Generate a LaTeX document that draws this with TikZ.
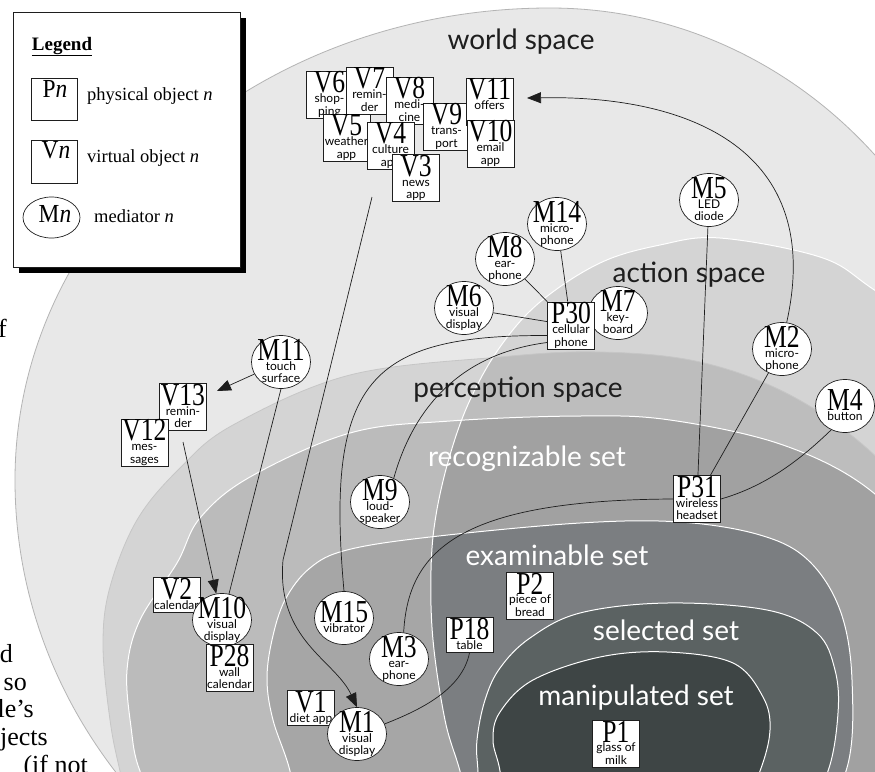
\documentclass[tikz,border=0pt]{standalone}
\usepackage{fontspec}
\usepackage{graphicx}
\usetikzlibrary{arrows.meta,shapes.geometric}
\newfontfamily\gill{Lato}
\newfontfamily\tnr{Liberation Serif}
\definecolor{worldc}{HTML}{E8E8E8}
\definecolor{worldb}{HTML}{B4B4B4}
\definecolor{percc}{HTML}{D4D4D4}
\definecolor{percb}{HTML}{C6C6C6}
\definecolor{actc}{HTML}{D4D4D4}
\definecolor{peractc}{HTML}{BDBDBD}
\definecolor{recogc}{HTML}{BBBBBB}
\definecolor{recogactc}{HTML}{A1A1A1}
\definecolor{examc}{HTML}{A6A6A6}
\definecolor{examactc}{HTML}{7B7E81}
\definecolor{selc}{HTML}{5B6262}
\definecolor{manc}{HTML}{3E4545}
\definecolor{ink}{HTML}{1E1E1E}
\newcommand\bigf{\tnr\fontsize{32}{32}\selectfont}
\newcommand\smf{\gill\fontsize{12}{13}\selectfont}
\newcommand\BL[1]{\scalebox{0.8}[1]{#1}}
\newsavebox\objbox
\newcommand\centred[1]{\sbox\objbox{#1}%
  \makebox[0pt]{\raisebox{\dimexpr(\dp\objbox-\ht\objbox)/2\relax}[0pt][0pt]{\usebox\objbox}}}
\newcommand\ot[3]{\centred{\vbox{\offinterlineskip\halign{\hfil##\hfil\cr
  \vrule height 22pt depth 0pt width 0pt\bigf\BL{#1}\cr
  \vrule height 9.5pt depth 3pt width 0pt\smf #2\cr
  \vrule height 9.5pt depth 3pt width 0pt\smf #3\cr}}}}
\newcommand\ott[2]{\centred{\vbox{\offinterlineskip\halign{\hfil##\hfil\cr
  \vrule height 22pt depth 0pt width 0pt\bigf\BL{#1}\cr
  \vrule height 9.5pt depth 3pt width 0pt\smf #2\cr}}}}
\def\Pworld{(550,8) arc[start angle=90,end angle=180,x radius=535pt,y radius=472pt] arc[start angle=180,end angle=270,x radius=535pt,y radius=500pt] arc[start angle=270,end angle=360,x radius=448pt,y radius=500pt] arc[start angle=0,end angle=90,x radius=448pt,y radius=472pt] -- cycle}
\def\Pperc{plot[smooth cycle, tension=0.6] coordinates {(135,830) (120,771) (110,720) (103,645) (110,587) (137,520) (180,468) (233,425) (350,375) (500,357) (600,352) (700,362) (790,395) (870,451) (940,530) (980,640) (980,780) (900,880) (500,920) (200,880)}}
\def\Pact{plot[smooth cycle, tension=0.6] coordinates {(475,830) (460,771) (445,720) (433,640) (431,570) (436,515) (450,455) (470,400) (500,347) (540,302) (600,263) (660,245) (720,238) (820,257) (870,287) (940,340) (1000,430) (1020,560) (1000,720) (940,830) (700,880)}}
\def\Precog{plot[smooth cycle, tension=0.6] coordinates {(170,830) (140,771) (131,727) (127,670) (140,620) (177,563) (200,518) (250,477) (350,433) (450,421) (580,416) (670,420) (783,445) (870,490) (930,560) (960,650) (960,760) (920,840) (550,900)}}
\def\Pexam{plot[smooth cycle, tension=0.6] coordinates {(300,830) (290,771) (273,720) (267,680) (272,640) (285,600) (310,568) (347,550) (430,537) (580,523) (680,522) (760,535) (808,560) (840,610) (852,680) (846,771) (800,840) (550,880)}}
\def\Psel{plot[smooth cycle, tension=0.6] coordinates {(482,820) (478,771) (477,740) (485,700) (500,668) (530,638) (580,613) (667,603) (767,610) (817,633) (835,670) (838,713) (828,771) (800,820) (650,850)}}
\def\Pman{plot[smooth cycle, tension=0.6] coordinates {(505,820) (500,771) (493,740) (500,712) (533,680) (600,657) (667,652) (733,663) (763,697) (770,730) (760,771) (740,810) (620,830)}}
\tikzset{
 obj/.style={rectangle, draw=ink, fill=white, line width=0.7pt, inner sep=0pt, minimum width=47pt, minimum height=47pt},
 objs/.style={obj, minimum height=35pt},
 med/.style={ellipse, draw=ink, fill=white, line width=0.7pt, inner sep=0pt, minimum width=59pt, minimum height=53pt},
 conn/.style={draw=ink, line width=0.7pt},
 arr/.style={conn, -{Triangle[length=14pt,width=11pt]}},
 dark/.style={font=\gill\fontsize{28}{30}\selectfont, text=ink, anchor=base, inner sep=0pt},
 light/.style={dark, text=white},
 frag/.style={font=\tnr\fontsize{26}{26}\selectfont, text=black, inner sep=0pt, anchor=base east},
 legtxt/.style={font=\tnr\fontsize{18.5}{18.5}\selectfont, text=black, inner sep=0pt, anchor=base west},
 legbig/.style={font=\tnr\fontsize{26}{26}\selectfont, text=black, inner sep=0pt, anchor=base},
}
\begin{document}
\begin{tikzpicture}[x=1pt,y=-1pt]
\useasboundingbox (0,0) rectangle (875,771);
\clip (0,0) rectangle (875,771);
\fill[white] (0,0) rectangle (875,771);
% text fragments of the cropped page
\node[frag] (fr1) at (7,337) {f};
\node[frag] (fr2) at (13,662) {d};
\node[frag] (fr3) at (27,690) {so};
\node[frag] (fr4) at (34,717) {le’s};
\node[frag] (fr5) at (48,745) {jects};
\node[frag] (fr6) at (88,773) {(if not};
% regions
\path[fill=worldc, draw=worldb, line width=0.8pt] \Pworld;
\fill[percc] \Pperc;
\fill[actc] \Pact;
\begin{scope}\clip \Pact; \fill[peractc] \Pperc;\end{scope}
\fill[recogc] \Precog;
\begin{scope}\clip \Pact; \fill[recogactc] \Precog;\end{scope}
\fill[examc] \Pexam;
\begin{scope}\clip \Pact; \fill[examactc] \Pexam;\end{scope}
\fill[selc] \Psel;
\fill[manc] \Pman;
\draw[percb, line width=0.8pt] \Pperc;
\draw[white, line width=1pt] \Pact;
\draw[white, line width=1pt] \Precog;
\draw[white, line width=1pt] \Pexam;
\draw[white, line width=1pt] \Psel;
\draw[white, line width=1pt] \Pman;
% region labels
\node[dark] (lworld) at (521,49) {world space};
\node[dark] (laction) at (689,282) {action space};
\node[dark] (lperc) at (518,397) {perception space};
\node[light] (lrecog) at (527,466) {recognizable set};
\node[light] (lexam) at (557,565) {examinable set};
\node[light] (lsel) at (666,640) {selected set};
\node[light] (lman) at (636,705) {manipulated set};
% virtual objects (top)
\node[obj] (v6) at (329.5,94.5) {\ot{V6}{shop-}{ping}};
\node[obj] (v7) at (369.5,90.5) {\ot{V7}{remin-}{der}};
\node[obj] (v5) at (346.5,137.5) {\ot{V5}{weather}{app}};
\node[obj] (v8) at (409.5,100.5) {\ot{V8}{medi-}{cine}};
\node[obj] (v4) at (390.5,145.5) {\ot{V4}{culture}{app}};
\node[obj] (v9) at (446.5,126.5) {\ot{V9}{trans-}{port}};
\node[obj] (v3) at (416,178) {\ot{V3}{news}{app}};
\node[obj] (v11) at (489.5,101.5) {\ot{V11}{offers}{}};
\node[obj] (v10) at (490.5,143.5) {\ot{V10}{email}{app}};
% cellular phone cluster
\node[med] (m14) at (557,224) {\ot{M14}{micro-}{phone}};
\node[med] (m8) at (505,259) {\ot{M8}{ear-}{phone}};
\node[med] (m6) at (464,308) {\ot{M6}{visual}{display}};
\node[med] (m7) at (618,313) {\ot{M7}{key-}{board}};
\node[obj] (p30) at (571,325.5) {\ot{P30}{cellular}{phone}};
% headset cluster
\node[med] (m5) at (709,200) {\ot{M5}{LED}{diode}};
\node[med] (m2) at (782,349) {\ot{M2}{micro-}{phone}};
\node[med] (m4) at (845,406) {\ott{M4}{button}};
\node[obj] (p31) at (697,499) {\ot{P31}{wireless}{headset}};
% left side
\node[med] (m11) at (281,362) {\ot{M11}{touch}{surface}};
\node[obj] (v13) at (183,407) {\ot{V13}{remin-}{der}};
\node[obj] (v12) at (144.5,442.5) {\ot{V12}{mes-}{sages}};
\node[objs] (v2) at (176.5,594.5) {\ott{V2}{calendar}};
\node[med] (m10) at (222,620) {\ot{M10}{visual}{display}};
\node[obj] (p28) at (229.5,668) {\ot{P28}{wall}{calendar}};
% lower middle
\node[med] (m9) at (380,502) {\ot{M9}{loud-}{speaker}};
\node[med] (m15) at (344,618) {\ott{M15}{vibrator}};
\node[med] (m3) at (399,659) {\ot{M3}{ear-}{phone}};
\node[objs] (v1) at (311,707.5) {\ott{V1}{diet app}};
\node[med] (m1) at (357,734) {\ot{M1}{visual}{display}};
\node[objs] (p18) at (469.5,635) {\ott{P18}{table}};
\node[obj] (p2) at (530,595.5) {\ot{P2}{piece of}{bread}};
\node[obj] (p1) at (616,743.5) {\ot{P1}{glass of}{milk}};
% free ends
\coordinate (s1) at (372,197);
\coordinate (s2) at (183,442);
\coordinate (a1) at (217,391);
\coordinate (a2) at (527,98);
% connectors
\draw[conn] (m14) -- (p30);
\draw[conn] (m8) -- (p30);
\draw[conn] (m6) -- (p30);
\draw[conn] (m5) -- (p31);
\draw[conn] (m2) -- (p31);
\draw[conn] (p31.east) .. controls (770,485) and (805,455) .. (m4.240);
\draw[conn] (m3.80) .. controls (408,550) and (460,500) .. (p31.west);
\draw[conn] (m15.north) .. controls (325,380) and (370,335) .. ([yshift=-10pt]p30.west);
\draw[conn] (m9.60) .. controls (410,420) and (450,355) .. ([yshift=-17pt]p30.west);
\draw[conn] (p18.south) .. controls (462,690) and (420,710) .. (m1.20);
\draw[arr] (s1) -- (283,560) .. controls (276,640) and (335,660) .. (m1.north);
\draw[arr] (m11) -- (a1);
\draw[arr] (s2) -- (m10);
\draw[conn] (m11.south) -- (m10.75);
\draw[arr] (m2.80) .. controls (825,150) and (690,95) .. (a2);
% legend
\fill[black] (19,18) rectangle (246,273);
\draw[ink, fill=white, line width=0.6pt] (13,12) rectangle (240,267);
\node[anchor=base, inner sep=0pt, font=\tnr\fontsize{19}{19}\selectfont\bfseries] (legt) at (62,50) {\underline{Legend}};
\node[obj, minimum width=46pt, minimum height=42pt] (legp) at (54,99) {};
\node[legbig] (legpt) at (55,97) {\scalebox{0.9}[1]{P\textit{n}}};
\node[legtxt] (legpl) at (87,100) {physical object \textit{n}};
\node[obj, minimum width=46pt, minimum height=43pt] (legv) at (54,161.5) {};
\node[legbig] (legvt) at (56,158) {\scalebox{0.9}[1]{V\textit{n}}};
\node[legtxt] (legvl) at (87,162) {virtual object \textit{n}};
\node[med, minimum width=57pt, minimum height=41pt] (legm) at (51.5,217.5) {};
\node[legbig] (legmt) at (55,222) {\scalebox{0.9}[1]{M\textit{n}}};
\node[legtxt] (legml) at (94,222) {mediator \textit{n}};
\end{tikzpicture}
\end{document}
